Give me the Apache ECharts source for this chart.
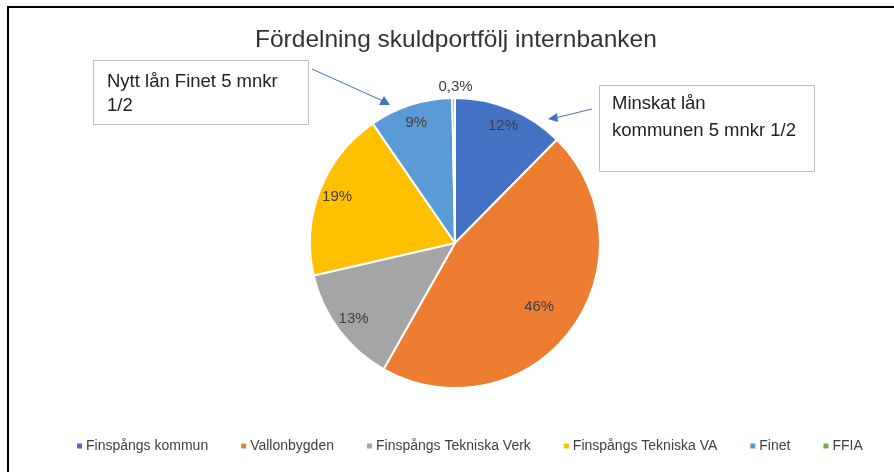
<!DOCTYPE html>
<html>
<head>
<meta charset="utf-8">
<script src="https://cdn.jsdelivr.net/npm/echarts@6/dist/echarts.min.js"></script>
<style>
  html, body { margin: 0; padding: 0; background: #fff; }
  #main { width: 894px; height: 472px; }
</style>
</head>
<body>
<div id="main"></div>
<script>
// share of the debt portfolio (%)
var names = ['Finspångs kommun', 'Vallonbygden', 'Finspångs Tekniska Verk', 'Finspångs Tekniska VA', 'Finet', 'FFIA'];
var values = [12.4, 45.8, 13.2, 19.0, 9.3, 0.3];
var colors = ['#4472C4', '#ED7D31', '#A5A5A5', '#FFC000', '#5B9BD5', '#70AD47'];

var font = '"Liberation Sans", sans-serif';

var myChart = echarts.init(document.getElementById('main'));

var pieData = names.map(function (n, i) {
  return { name: n, value: values[i], itemStyle: { color: colors[i] } };
});

// label layers: transparent rings so inside labels sit near the rim
var rimLabels = names.map(function (n, i) {
  var d = { name: n, value: values[i] };
  if (i === 1) d.label = { show: false };
  if (values[i] < 1) d.label = { position: 'outside' };
  return d;
});
var bigLabel = names.map(function (n, i) {
  return { name: n, value: values[i], label: { show: i === 1 } };
});

function pct(p) {
  if (p.value < 1) return p.value.toFixed(1).replace('.', ',') + '%';
  return Math.round(p.percent) + '%';
}

var labelStyle = {
  show: true,
  position: 'inside',
  formatter: pct,
  fontFamily: font,
  fontSize: 15,
  color: '#404040'
};

var option = {
  backgroundColor: '#fff',
  animation: false,
  color: colors,
  title: {
    text: 'Fördelning skuldportfölj internbanken',
    left: 250,
    top: 23,
    textStyle: { fontFamily: font, fontSize: 24.5, fontWeight: 'normal', color: '#333' }
  },
  legend: {
    bottom: 14,
    left: 70,
    icon: 'rect',
    itemWidth: 7,
    itemHeight: 7,
    itemGap: 31,
    data: names,
    textStyle: { fontFamily: font, fontSize: 14, color: '#404040', padding: [0, 0, 0, -2] }
  },
  series: [
    {
      type: 'pie',
      center: [455, 243],
      radius: [0, 145],
      startAngle: 90,
      clockwise: true,
      label: { show: false },
      labelLine: { show: false },
      emphasis: { disabled: true },
      itemStyle: { borderColor: '#fff', borderWidth: 2 },
      data: pieData
    },
    {
      type: 'pie',
      center: [455, 243],
      radius: [102, 145],
      startAngle: 90,
      clockwise: true,
      silent: true,
      emphasis: { disabled: true },
      itemStyle: { color: 'transparent' },
      label: labelStyle,
      labelLine: { show: false, length: 13, length2: 0 },
      labelLayout: function (p) {
        if (p.dataIndex === 5) return { align: 'center', dx: 7, dy: 2 };
      },
      data: rimLabels
    },
    {
      type: 'pie',
      center: [455, 243],
      radius: [60, 145],
      startAngle: 90,
      clockwise: true,
      silent: true,
      emphasis: { disabled: true },
      itemStyle: { color: 'transparent' },
      label: labelStyle,
      labelLine: { show: false },
      data: bigLabel
    }
  ],
  graphic: [
    // chart frame
    { type: 'rect', shape: { x: 8, y: 7, width: 900, height: 480 },
      style: { fill: 'none', stroke: '#000', lineWidth: 2 }, silent: true },
    // note 1
    { type: 'rect', shape: { x: 93.5, y: 60.5, width: 215, height: 64 },
      style: { fill: '#fff', stroke: '#BFBFBF', lineWidth: 1 } },
    { type: 'text', x: 107, y: 70,
      style: { text: 'Nytt lån Finet 5 mnkr\n1/2', fontFamily: font,
        fontSize: 18.5, lineHeight: 24, fill: '#222' } },
    { type: 'line', shape: { x1: 312, y1: 69, x2: 383, y2: 101 },
      style: { stroke: '#4472C4', lineWidth: 1 } },
    { type: 'polygon', shape: { points: [[390, 105], [379, 105], [384, 96]] },
      style: { fill: '#4472C4' } },
    // note 2
    { type: 'rect', shape: { x: 599.5, y: 85.5, width: 215, height: 86 },
      style: { fill: '#fff', stroke: '#BFBFBF', lineWidth: 1 } },
    { type: 'text', x: 612, y: 90,
      style: { text: 'Minskat lån\nkommunen 5 mnkr 1/2', fontFamily: font,
        fontSize: 18.5, lineHeight: 27, fill: '#222' } },
    { type: 'line', shape: { x1: 592, y1: 109, x2: 555, y2: 118 },
      style: { stroke: '#4472C4', lineWidth: 1 } },
    { type: 'polygon', shape: { points: [[548, 119], [557, 113], [558, 122]] },
      style: { fill: '#4472C4' } }
  ]
};

myChart.setOption(option);
</script>
</body>
</html>
